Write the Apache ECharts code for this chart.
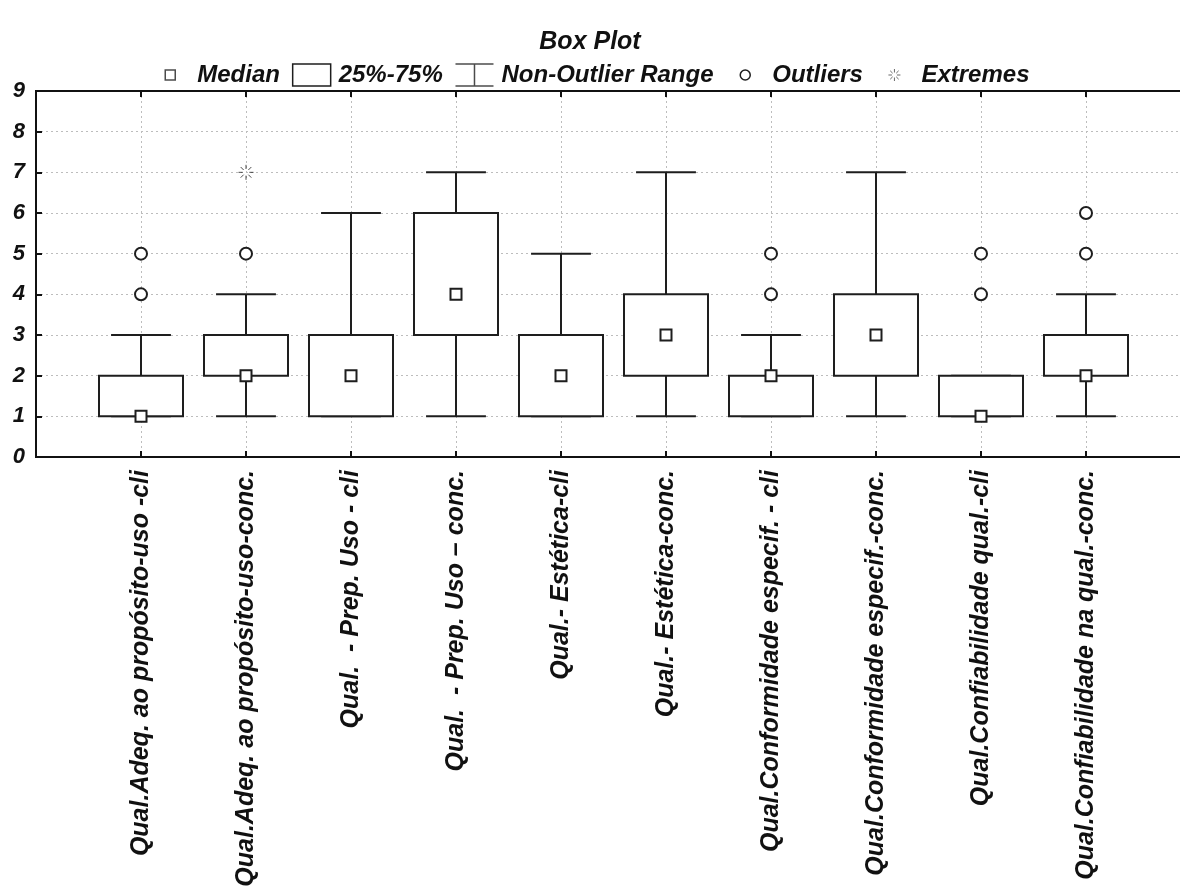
<!DOCTYPE html>
<html>
<head>
<meta charset="utf-8">
<script src="https://cdn.jsdelivr.net/npm/echarts@6/dist/echarts.min.js"></script>
<style>html,body{margin:0;padding:0;background:#fff;}#c{width:1180px;height:886px;}</style>
</head>
<body>
<div id="c"></div>
<script>
// ---- data ----
var categories = [
  'Qual.Adeq. ao propósito-uso -cli',
  'Qual.Adeq. ao propósito-uso-conc.',
  'Qual.  - Prep. Uso - cli',
  'Qual.  - Prep. Uso – conc.',
  'Qual.- Estética-cli',
  'Qual.- Estética-conc.',
  'Qual.Conformidade especif. - cli',
  'Qual.Conformidade especif.-conc.',
  'Qual.Confiabilidade qual.-cli',
  'Qual.Confiabilidade na qual.-conc.'
];
var whiskerLow  = [1, 1, 1, 1, 1, 1, 1, 1, 1, 1];
var q1Values    = [1, 2, 1, 3, 1, 2, 1, 2, 1, 2];
var medians     = [1, 2, 2, 4, 2, 3, 2, 3, 1, 2];
var q3Values    = [2, 3, 3, 6, 3, 4, 2, 4, 2, 3];
var whiskerHigh = [3, 4, 6, 7, 5, 7, 3, 7, 2, 4];
// [category number (1-based), value]
var outliers = [[1, 4], [1, 5], [2, 5], [7, 4], [7, 5], [9, 4], [9, 5], [10, 5], [10, 6]];
var extremes = [[2, 7]];
var yTicks = [0, 1, 2, 3, 4, 5, 6, 7, 8, 9];

// axis with one empty slot on each side
var axisCats = [''].concat(categories).concat(['']);
var boxData = categories.map(function (c, i) {
  return [i + 1, whiskerLow[i], q1Values[i], medians[i], q3Values[i], whiskerHigh[i]];
});

var FONT = '"Liberation Sans", Arial, sans-serif';
var INK = '#1e1e1e';
var starPath = 'path://M10,1L10,6M10,14L10,19M1,10L6,10M14,10L19,10M3.6,3.6L7.2,7.2M16.4,3.6L12.8,7.2M3.6,16.4L7.2,12.8M16.4,16.4L12.8,12.8';

var chart = echarts.init(document.getElementById('c'), null, {renderer: 'canvas'});
chart.setOption({
  animation: false,
  backgroundColor: '#fff',
  title: {
    text: 'Box Plot', left: 'center', top: 25,
    textStyle: {fontFamily: FONT, fontSize: 25, fontWeight: 'bold', fontStyle: 'italic', color: '#111'}
  },
  legend: {
    top: 58, left: 'center', itemWidth: 38, itemHeight: 22, itemGap: 12,
    textStyle: {fontFamily: FONT, fontSize: 24, fontWeight: 'bold', fontStyle: 'italic', color: '#111', padding: [0, 0, 0, 3]},
    selectedMode: false,
    data: [
      {name: 'Median', icon: 'path://M0,0M38,22M14,6L24,6L24,16L14,16Z',
        itemStyle: {color: '#fff', borderColor: INK, borderWidth: 1.5}},
      {name: '25%-75%', icon: 'path://M0,0L38,0L38,22L0,22Z',
        itemStyle: {color: '#fff', borderColor: INK, borderWidth: 1.5}},
      {name: 'Non-Outlier Range', icon: 'path://M0,0L38,0M19,0L19,22M0,22L38,22',
        itemStyle: {color: 'transparent', borderColor: INK, borderWidth: 1.5}},
      {name: 'Outliers', icon: 'path://M0,0M38,22M24,11A5,5,0,1,1,14,11A5,5,0,1,1,24,11Z',
        itemStyle: {color: '#fff', borderColor: INK, borderWidth: 1.5}},
      {name: 'Extremes', icon: 'path://M0,0M38,22M19,5L19,8.5M19,13.5L19,17M13,11L16.5,11M21.5,11L25,11M14.8,6.8L17.2,9.2M23.2,6.8L20.8,9.2M14.8,15.2L17.2,12.8M23.2,15.2L20.8,12.8',
        itemStyle: {color: 'transparent', borderColor: '#444', borderWidth: 1}}
    ]
  },
  grid: {left: 36, right: -11, top: 91, bottom: 429, outerBoundsMode: 'none', containLabel: false,
    show: true, borderColor: '#111', borderWidth: 2, backgroundColor: 'transparent'},
  xAxis: [{
    type: 'category', data: axisCats, boundaryGap: false, position: 'bottom',
    axisLine: {show: true, lineStyle: {color: '#111', width: 2}},
    axisTick: {show: true, inside: true, length: 6, interval: 0, lineStyle: {color: '#111', width: 2}},
    axisLabel: {interval: 0, rotate: 90, margin: 13, fontFamily: FONT, fontSize: 25, fontWeight: 'bold', fontStyle: 'italic', color: '#111'},
    splitLine: {show: true, interval: 0, lineStyle: {color: '#bdbdbd', type: [2, 3], width: 1}}
  }, {
    type: 'category', data: axisCats, boundaryGap: false, position: 'top',
    axisLine: {show: true, lineStyle: {color: '#111', width: 2}},
    axisTick: {show: true, inside: true, length: 6, interval: 0, lineStyle: {color: '#111', width: 2}},
    axisLabel: {show: false}, splitLine: {show: false}
  }],
  yAxis: {
    type: 'value', min: yTicks[0], max: yTicks[yTicks.length - 1], interval: 1,
    axisLine: {show: true, lineStyle: {color: '#111', width: 2}},
    axisTick: {show: true, inside: true, length: 6, lineStyle: {color: '#111', width: 2}},
    axisLabel: {margin: 11, fontFamily: FONT, fontSize: 22, fontWeight: 'bold', fontStyle: 'italic', color: '#111'},
    splitLine: {show: true, lineStyle: {color: '#bdbdbd', type: [2, 3], width: 1}}
  },
  series: [
    {name: 'Median', type: 'scatter', data: []},
    {name: 'Non-Outlier Range', type: 'scatter', data: []},
    {
      name: '25%-75%', type: 'custom', data: boxData, z: 3,
      renderItem: function (params, api) {
        var x = api.value(0);
        var lo = api.coord([x, api.value(1)]);
        var q1 = api.coord([x, api.value(2)]);
        var md = api.coord([x, api.value(3)]);
        var q3 = api.coord([x, api.value(4)]);
        var hi = api.coord([x, api.value(5)]);
        var band = api.coord([x + 1, 0])[0] - api.coord([x, 0])[0];
        var bw = band * 0.8, cw = band * 0.57, ms = 11;
        var cx = lo[0];
        var ls = {stroke: INK, lineWidth: 2, fill: null};
        return {
          type: 'group',
          children: [
            {type: 'line', shape: {x1: cx, y1: lo[1], x2: cx, y2: hi[1]}, style: ls},
            {type: 'line', shape: {x1: cx - cw / 2, y1: lo[1], x2: cx + cw / 2, y2: lo[1]}, style: ls},
            {type: 'line', shape: {x1: cx - cw / 2, y1: hi[1], x2: cx + cw / 2, y2: hi[1]}, style: ls},
            {type: 'rect', shape: {x: cx - bw / 2, y: q3[1], width: bw, height: q1[1] - q3[1]},
              style: {stroke: INK, lineWidth: 2, fill: '#fff'}},
            {type: 'rect', shape: {x: cx - ms / 2, y: md[1] - ms / 2, width: ms, height: ms},
              style: {stroke: INK, lineWidth: 2, fill: '#fff'}}
          ]
        };
      }
    },
    {
      name: 'Outliers', type: 'scatter', data: outliers, symbol: 'circle', symbolSize: 12, z: 4,
      itemStyle: {color: '#fff', borderColor: INK, borderWidth: 2, opacity: 1}
    },
    {
      name: 'Extremes', type: 'scatter', data: extremes, symbol: starPath, symbolSize: 15, z: 4,
      itemStyle: {color: 'transparent', borderColor: '#222', borderWidth: 1}
    }
  ]
});
</script>
</body>
</html>
